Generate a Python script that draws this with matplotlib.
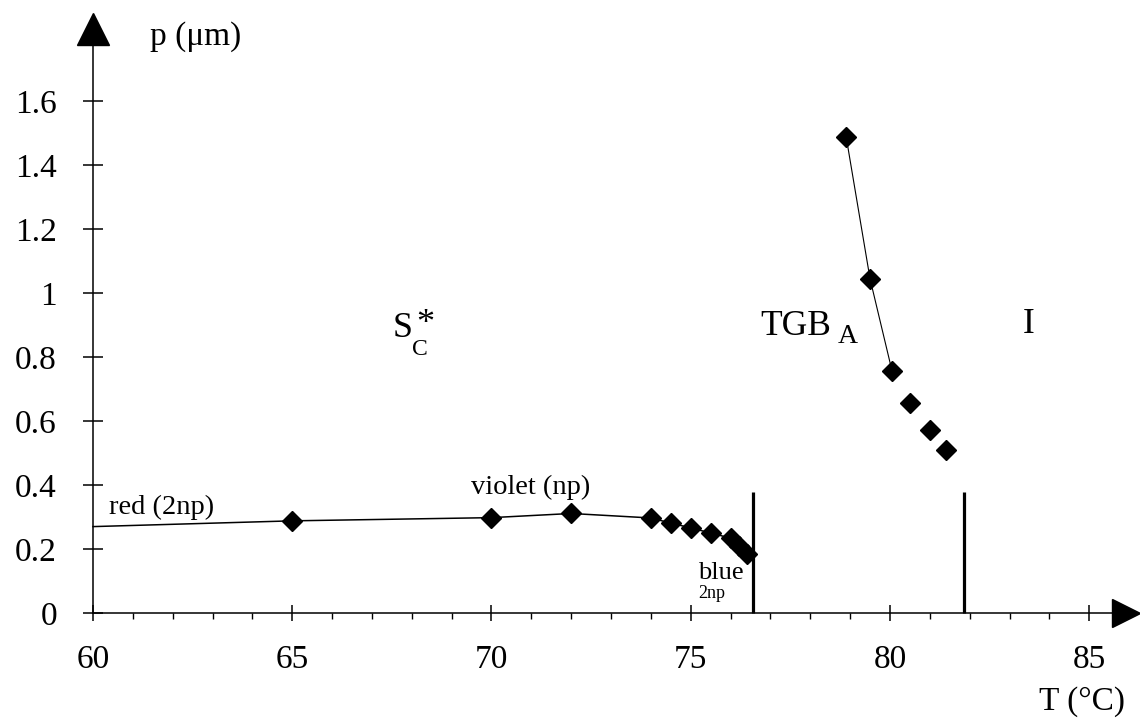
import numpy as np
import matplotlib
matplotlib.use('Agg')
import matplotlib.pyplot as plt

# pitch data
T_sc = [65, 70, 72, 74, 74.5, 75, 75.5, 76, 76.2, 76.4]
p_sc = [0.288, 0.298, 0.311, 0.297, 0.281, 0.266, 0.25, 0.234, 0.21, 0.185]

# guide line through the smectic C* points (runs from 60 to the transition)
T_sc_line = [60] + T_sc + [76.57]
p_sc_line = [0.27] + p_sc + [0.165]

T_tgb = [78.9, 79.5, 80.05, 80.5, 81.0, 81.4]
p_tgb = [1.488, 1.044, 0.757, 0.657, 0.572, 0.509]

# phase transitions
T_trans = [76.57, 81.85]
p_trans_top = 0.378

x_ticks = [60, 65, 70, 75, 80, 85]
x_labels = ['60', '65', '70', '75', '80', '85']
y_ticks = [0, 0.2, 0.4, 0.6, 0.8, 1.0, 1.2, 1.4, 1.6]
y_labels = ['0', '0.2', '0.4', '0.6', '0.8', '1', '1.2', '1.4', '1.6']

plt.rcParams['font.family'] = ['Liberation Serif', 'DejaVu Serif']
plt.rcParams['font.size'] = 24

fig = plt.figure(figsize=(11.4, 7.22), dpi=100)
ax = fig.add_axes([0, 0, 1, 1])
ax.patch.set_visible(False)
ax.set_xlim(57.666, 86.274)
ax.set_ylim(-0.3406, 1.9156)

# axes drawn through the origin with arrow heads
for s in ['top', 'right']:
    ax.spines[s].set_visible(False)
ax.spines['left'].set_position(('data', 60))
ax.spines['bottom'].set_position(('data', 0))
ax.spines['left'].set_bounds(0, 1.8)
ax.spines['bottom'].set_bounds(60, 85.6)
ax.spines['left'].set_linewidth(1.1)
ax.spines['bottom'].set_linewidth(1.1)
ax.plot(60, 1.825, marker='^', ms=23, color='black', clip_on=False)
ax.plot(85.92, 0, marker='>', ms=20, color='black', clip_on=False)

ax.set_xticks(x_ticks)
ax.set_xticklabels(x_labels)
ax.set_xticks(np.arange(60, 86, 1), minor=True)
ax.set_yticks(y_ticks)
ax.set_yticklabels(y_labels)
ax.tick_params(axis='x', which='major', direction='inout', length=11, width=1.1, pad=17, labelsize=24)
ax.tick_params(axis='x', which='minor', direction='out', length=4.5, width=1.0)
ax.tick_params(axis='y', which='major', direction='inout', length=14, width=1.1, pad=19, labelsize=24)

# data
ax.plot(T_sc_line, p_sc_line, color='black', lw=1.1)
ax.plot(T_sc, p_sc, 'D', color='black', ms=10)
ax.plot(T_tgb[:3], p_tgb[:3], color='black', lw=0.8)
ax.plot(T_tgb, p_tgb, 'D', color='black', ms=10)
ax.vlines(T_trans, 0, p_trans_top, color='black', lw=2.3)

# labels
ax.text(62.585, 1.8, 'p (\u03bcm)', ha='center', va='center', fontsize=24)
ax.text(84.82, -0.278, 'T (\u00b0C)', ha='center', va='center', fontsize=24)
ax.text(61.73, 0.331, 'red (2np)', ha='center', va='center', fontsize=20.5)
ax.text(70.97, 0.394, 'violet (np)', ha='center', va='center', fontsize=20.5)
ax.text(75.18, 0.106, 'blue', ha='left', va='baseline', fontsize=19)
ax.text(75.18, 0.047, '2np', ha='left', va='baseline', fontsize=13)

ax.text(67.53, 0.8625, 'S', ha='left', va='baseline', fontsize=26)
ax.text(68.005, 0.806, 'C', ha='left', va='baseline', fontsize=17)
ax.text(68.33, 0.875, '*', ha='center', va='baseline', fontsize=26)

ax.text(76.74, 0.869, 'TGB', ha='left', va='baseline', fontsize=25.5)
ax.text(78.695, 0.844, 'A', ha='left', va='baseline', fontsize=20)
ax.text(83.49, 0.875, 'I', ha='center', va='baseline', fontsize=25.5)

fig.savefig('out.png', dpi=100)
